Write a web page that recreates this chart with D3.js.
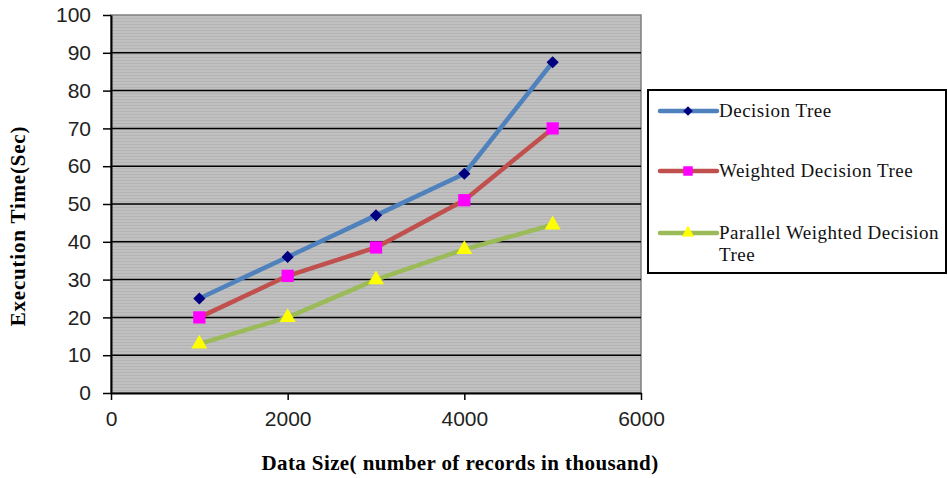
<!DOCTYPE html>
<html>
<head>
<meta charset="utf-8">
<script src="https://cdn.jsdelivr.net/npm/d3@7"></script>
<style>
  body { margin: 0; background: #fff; }
</style>
</head>
<body>
<svg></svg>
<script>
const width = 948
const height = 478
const margin = { top: 15, right: 307, bottom: 85, left: 111 }

const sizes = [1000, 2000, 3000, 4000, 5000]
const decisionTree = [25, 36, 47, 58, 87.5]
const weightedTree = [20, 31, 38.5, 51, 70]
const parallelTree = [13, 20, 30, 38, 44.5]
const seriesNames = ['Decision Tree', 'Weighted Decision Tree', 'Parallel Weighted Decision Tree']
const xTicks = [0, 2000, 4000, 6000]
const yTicks = [0, 10, 20, 30, 40, 50, 60, 70, 80, 90, 100]

const series = [
  { name: seriesNames[0], values: decisionTree, line: '#4f81bd', fill: '#000080', shape: d3.symbolDiamond2, size: 95 },
  { name: seriesNames[1], values: weightedTree, line: '#c0504d', fill: '#ff00ff', shape: d3.symbolSquare, size: 150 },
  { name: seriesNames[2], values: parallelTree, line: '#9bbb59', fill: '#ffff00', shape: d3.symbolTriangle, size: 110 }
]

const svg = d3.select('svg').attr('width', width).attr('height', height)

const x = d3.scaleLinear().domain([0, 6000]).range([margin.left, width - margin.right])
const y = d3.scaleLinear().domain([0, 100]).range([height - margin.bottom, margin.top])

/** striped grey plot area */
const defs = svg.append('defs')
const pat = defs.append('pattern')
  .attr('id', 'stripes')
  .attr('patternUnits', 'userSpaceOnUse')
  .attr('width', 4).attr('height', 3)
pat.append('rect').attr('width', 4).attr('height', 3).attr('fill', '#c0c0c0')
pat.append('rect').attr('width', 4).attr('height', 1).attr('fill', '#b4b4b4')

svg.append('rect')
  .attr('x', x(0)).attr('y', y(100))
  .attr('width', x(6000) - x(0)).attr('height', y(0) - y(100))
  .attr('fill', 'url(#stripes)')
  .attr('stroke', '#808080').attr('stroke-width', 1.5)

/** gridlines */
svg.append('g')
  .selectAll('line')
  .data(yTicks.filter(d => d > 0 && d < 100))
  .enter()
  .append('line')
  .attr('x1', x(0)).attr('x2', x(6000))
  .attr('y1', d => y(d)).attr('y2', d => y(d))
  .attr('stroke', '#000').attr('stroke-width', 1.5)

/** axes */
const xAxis = d3.axisBottom(x).tickValues(xTicks).tickFormat(d3.format('d'))
  .tickSize(7).tickSizeOuter(0).tickPadding(11)
const yAxis = d3.axisLeft(y).tickValues(yTicks).tickFormat(d3.format('d'))
  .tickSize(8).tickSizeOuter(0).tickPadding(12)

const gx = svg.append('g')
  .attr('transform', `translate(0, ${y(0)})`)
  .call(xAxis)
const gy = svg.append('g')
  .attr('transform', `translate(${x(0)}, 0)`)
  .call(yAxis)

;[gx, gy].forEach(g => {
  g.select('.domain').attr('stroke', '#000').attr('stroke-width', 2)
  g.selectAll('.tick line').attr('stroke', '#000').attr('stroke-width', 1.5)
  g.selectAll('.tick text')
    .attr('fill', '#222')
    .style('font-family', 'Liberation Sans, Arial, sans-serif')
    .style('font-size', '21px')
})

/** lines and markers */
series.forEach(s => {
  const pts = sizes.map((v, i) => [x(v), y(s.values[i])])
  svg.append('path')
    .attr('d', d3.line()(pts))
    .attr('fill', 'none')
    .attr('stroke', s.line)
    .attr('stroke-width', 4.5)
    .attr('stroke-linejoin', 'round')
  svg.append('g')
    .selectAll('path')
    .data(pts)
    .enter()
    .append('path')
    .attr('transform', d => `translate(${d[0]}, ${d[1]})`)
    .attr('d', d3.symbol().type(s.shape).size(s.size))
    .attr('fill', s.fill)
})

/** axis titles */
const serif = 'Liberation Serif, Times New Roman, serif'
svg.append('text')
  .attr('x', 460).attr('y', 470)
  .attr('text-anchor', 'middle')
  .style('font-family', serif).style('font-weight', 'bold').style('font-size', '21px')
  .style('letter-spacing', '0.4px')
  .text('Data Size( number of records in thousand)')

svg.append('text')
  .attr('transform', 'translate(25, 226) rotate(-90)')
  .attr('text-anchor', 'middle')
  .style('font-family', serif).style('font-weight', 'bold').style('font-size', '21px')
  .style('letter-spacing', '0.8px')
  .text('Execution Time(Sec)')

/** legend */
const legend = svg.append('g')
legend.append('rect')
  .attr('x', 648).attr('y', 90).attr('width', 298).attr('height', 183)
  .attr('fill', '#fff').attr('stroke', '#000').attr('stroke-width', 2)

const rows = [111, 171, 233]
series.forEach((s, i) => {
  const ly = rows[i]
  legend.append('line')
    .attr('x1', 660).attr('x2', 717).attr('y1', ly).attr('y2', ly)
    .attr('stroke', s.line).attr('stroke-width', 4.5).attr('stroke-linecap', 'round')
  legend.append('path')
    .attr('transform', `translate(688, ${ly})`)
    .attr('d', d3.symbol().type(s.shape).size(s.size * 0.6))
    .attr('fill', s.fill)
  const t = legend.append('text')
    .attr('x', 719).attr('y', ly + 6)
    .style('font-family', serif).style('font-size', '19px')
    .style('letter-spacing', '0.5px').attr('fill', '#111')
  if (i === 2) {
    t.append('tspan').attr('x', 719).text('Parallel Weighted Decision')
    t.append('tspan').attr('x', 719).attr('dy', 22).text('Tree')
  } else {
    t.text(s.name)
  }
})
</script>
</body>
</html>
